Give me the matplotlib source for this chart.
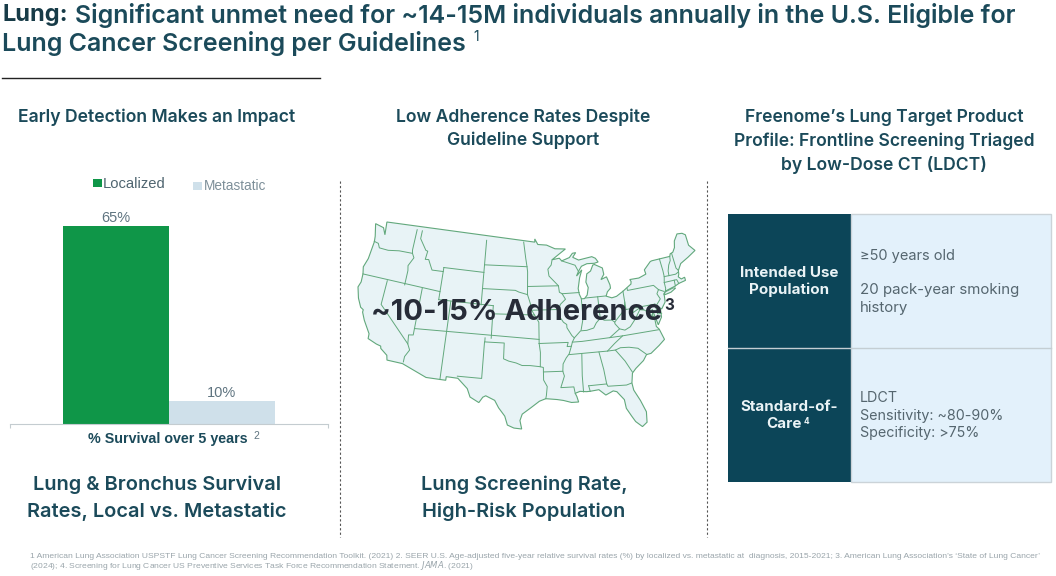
import matplotlib
matplotlib.use("Agg")
import matplotlib.pyplot as plt
import numpy as np
from matplotlib.patches import Polygon, Rectangle

# data
series = ["Localized", "Metastatic"]
survival = [65, 10]
survival_labels = ["65%", "10%"]
bar_colors = ["#0f9648", "#cfe0ea"]

TEAL = "#1b4a5a"
DARK = "#0c4558"
LIGHT = "#e3f1fb"
GREY = "#5f7480"
plt.rcParams["font.family"] = ["Inter", "DejaVu Sans"]

# map outline and state lines, lon/lat, rough by hand
us_outline = [(-124.7,48.4),(-123.1,48.2),(-122.5,47.4),(-122.8,49.0),(-95.15,49.0),(-95.15,49.4),(-94.6,48.7),(-93.0,48.6),
    (-91.5,48.1),(-89.6,48.0),(-92.1,46.75),(-90.8,46.9),(-90.4,46.55),(-89.0,46.9),(-88.4,47.4),(-87.8,47.45),(-88.4,46.9),
    (-87.4,46.5),(-85.0,46.75),(-84.4,46.5),(-84.0,46.0),(-84.7,45.9),(-86.0,45.95),(-87.0,45.7),(-87.6,45.1),(-88.0,44.55),
    (-87.0,45.25),(-87.5,44.3),(-87.9,43.0),(-87.8,42.3),(-87.5,41.7),(-87.0,41.7),(-86.5,42.1),(-86.2,43.0),(-86.5,43.7),
    (-86.2,44.7),(-85.5,45.0),(-85.0,45.7),(-84.7,45.75),(-83.4,45.2),(-83.3,44.4),(-83.9,43.8),(-82.9,44.05),(-82.5,43.0),
    (-82.5,42.6),(-83.1,42.2),(-83.4,41.7),(-82.5,41.4),(-81.7,41.5),(-80.5,42.0),(-79.0,42.7),(-78.9,43.0),(-79.05,43.27),
    (-77.5,43.25),(-76.2,43.55),(-76.3,44.1),(-75.0,44.95),(-74.7,45.0),(-71.5,45.0),(-71.3,45.3),(-70.8,45.4),(-70.3,45.9),
    (-70.0,46.7),(-69.2,47.45),(-68.3,47.35),(-67.8,47.05),(-67.8,45.7),(-67.0,44.85),(-68.5,44.3),(-70.0,43.8),(-70.7,43.05),
    (-70.8,42.6),(-71.0,42.3),(-70.6,41.95),(-70.0,42.05),(-70.0,41.65),(-71.2,41.5),(-71.9,41.3),(-73.6,41.0),(-74.0,40.7),
    (-74.0,40.4),(-74.1,39.7),(-74.9,38.95),(-75.55,39.5),(-75.1,38.8),(-75.2,38.0),(-75.95,37.15),(-76.2,38.3),(-76.4,39.2),
    (-76.5,38.4),(-76.3,37.9),(-76.3,37.0),(-75.95,36.6),(-75.5,35.25),(-76.5,34.65),(-77.9,33.9),(-78.6,33.85),(-79.2,33.2),
    (-80.5,32.4),(-81.1,31.9),(-81.4,30.7),(-81.3,29.8),(-80.6,28.4),(-80.05,26.9),(-80.2,25.6),(-80.9,25.15),(-81.7,25.9),
    (-82.1,26.6),(-82.7,27.7),(-82.8,28.8),(-83.7,29.9),(-84.2,30.05),(-85.3,29.65),(-86.2,30.4),(-87.5,30.3),(-88.0,30.3),
    (-88.9,30.4),(-89.6,30.2),(-89.4,29.8),(-89.2,29.1),(-90.2,29.1),(-91.3,29.4),(-92.2,29.55),(-93.8,29.7),(-94.7,29.4),
    (-95.9,28.6),(-97.1,27.8),(-97.4,27.0),(-97.15,25.95),(-98.2,26.05),(-99.1,26.4),(-99.5,27.5),(-100.4,28.5),(-101.0,29.4),
    (-102.3,29.9),(-102.7,29.7),(-103.2,29.0),(-104.5,29.6),(-105.0,30.6),(-106.5,31.75),(-108.2,31.78),(-108.2,31.33),
    (-111.07,31.33),(-114.8,32.5),(-117.12,32.53),(-117.3,33.1),(-118.4,33.75),(-118.5,34.03),(-119.2,34.15),(-120.6,34.55),
    (-120.65,35.15),(-121.9,36.6),(-122.5,37.5),(-122.5,37.8),(-123.0,38.0),(-123.75,39.0),(-124.35,40.3),(-124.1,41.0),
    (-124.2,42.0),(-124.5,42.85),(-124.1,44.0),(-123.95,46.2),(-124.1,46.9)]
long_island = [(-74.0,40.6),(-73.7,40.9),(-72.3,41.15),(-71.9,41.05),(-72.8,40.7),(-73.8,40.58)]
state_lines = [
    [(-124,46.25),(-123.2,46.15),(-122.8,45.65),(-121.2,45.65),(-119.3,45.93),(-116.92,46.0)],
    [(-117.03,49),(-117.04,46.4),(-116.92,46.0),(-116.5,45.5),(-117.2,44.4),(-117.03,43.8),(-117.03,42)],
    [(-124.2,42),(-111.05,42)],
    [(-116.05,49),(-116.05,48),(-114.7,46.7),(-114.35,46.65),(-114.5,45.6),(-113.9,45.65),(-113.45,45.05),(-113.0,44.45),(-111.05,44.5)],
    [(-111.05,45),(-111.05,41)],
    [(-111.05,45),(-104.05,45)],
    [(-104.05,49),(-104.05,41)],
    [(-111.05,41),(-102.05,41)],
    [(-109.05,41),(-109.05,31.33)],
    [(-114.05,42),(-114.05,36.2),(-114.75,36.1),(-114.6,35),(-114.15,34.3),(-114.7,33.4),(-114.72,32.72)],
    [(-120,42),(-120,39),(-114.6,35)],
    [(-114.05,37),(-94.62,37)],
    [(-102.05,41),(-102.05,37)],
    [(-104.05,43),(-98.5,43),(-97.9,42.8),(-96.45,42.5)],
    [(-104.05,45.94),(-96.56,45.94)],
    [(-102.05,40),(-95.3,40)],
    [(-96.45,42.5),(-96.1,41.7),(-95.9,41.2),(-95.85,40.7),(-95.3,40),(-94.62,39.1),(-94.62,36.5)],
    [(-97.2,49),(-96.8,47),(-96.56,45.94),(-96.45,45.3),(-96.45,42.5)],
    [(-96.45,43.5),(-91.2,43.5)],
    [(-92.1,46.75),(-92.3,46.1),(-92.9,45.6),(-92.75,44.75),(-91.2,43.5),(-91.1,42.7),(-90.65,42.5),(-90.15,41.8),(-91.05,41.2),
     (-91.4,40.4),(-91.5,40),(-90.7,39),(-90.2,38.7),(-90.2,38.3),(-89.5,37.3),(-89.15,37.0),(-89.5,36.5),(-89.7,36.0),(-90.1,35.1),
     (-90.6,34.6),(-91.1,33.9),(-91.2,33),(-91.0,32.4),(-91.6,31.0),(-89.73,31.0),(-89.6,30.2)],
    [(-95.77,40.58),(-91.7,40.6),(-91.4,40.4)],
    [(-103,37),(-103,36.5),(-100,36.5),(-100,34.56),(-99.2,34.3),(-98.1,34.1),(-97.2,33.8),(-96,33.8),(-94.5,33.65),(-94.45,35.4),(-94.62,36.5)],
    [(-103.04,36.5),(-103.06,32),(-106.6,32)],
    [(-94.5,33.65),(-94.05,33.55),(-94.05,32),(-93.55,31.2),(-93.7,30.1),(-93.8,29.7)],
    [(-94.05,33),(-91.2,33)],
    [(-94.62,36.5),(-90.15,36.5),(-90.35,36),(-89.7,36)],
    [(-89.5,36.5),(-88,36.5),(-83.68,36.6),(-81.7,36.6),(-75.95,36.55)],
    [(-90.1,35),(-84.3,35),(-83.1,35.8),(-81.7,36.6)],
    [(-88.2,35),(-88.4,32.3),(-88.4,30.3)],
    [(-85.6,35),(-85.18,32.8),(-85.0,31),(-84.86,30.7),(-82.2,30.55),(-81.45,30.7)],
    [(-87.6,31),(-85.0,31)],
    [(-87.6,31),(-87.45,30.3)],
    [(-84.3,35),(-83.1,35),(-81.9,33.5),(-81.1,32.05)],
    [(-83.1,35),(-82.3,35.2),(-81,35.1),(-79.7,34.8),(-78.55,33.85)],
    [(-89.15,37),(-88.1,37.8),(-87.1,37.8),(-86,38),(-85.5,38.6),(-84.8,39.1),(-84.2,38.8),(-83,38.7),(-82.6,38.4),(-81.8,39),(-80.8,39.7),(-80.52,40.64)],
    [(-87.53,41.7),(-87.53,39.3),(-88.0,37.9)],
    [(-84.8,39.1),(-84.8,41.75)],
    [(-86.8,41.76),(-84.8,41.75),(-83.45,41.73)],
    [(-90.65,42.5),(-87.8,42.5)],
    [(-90.4,46.55),(-88.1,45.9),(-87.6,45.1)],
    [(-83.68,36.6),(-82,37.5),(-82.6,38.2),(-82.6,38.4)],
    [(-82,37.5),(-81.2,37.25),(-80.3,37.55),(-79.3,38.4),(-78.35,39.4),(-77.8,39.3)],
    [(-80.52,39.72),(-75.79,39.72)],
    [(-79.48,39.72),(-79.48,39.2),(-78.4,39.6),(-77.7,39.3),(-77.0,38.85),(-76.3,38.0)],
    [(-80.52,42),(-80.52,39.72)],
    [(-79.76,42.27),(-79.76,42),(-75.35,42),(-74.7,41.36)],
    [(-74.7,41.36),(-75.1,40.9),(-74.75,40.2),(-75.5,39.6)],
    [(-75.79,39.72),(-75.7,38.46),(-75.05,38.45)],
    [(-74.7,41.36),(-73.9,41.0)],
    [(-73.35,45),(-73.25,43.5),(-73.27,42.75),(-73.5,42.05),(-73.5,41.3),(-73.65,41.0)],
    [(-71.5,45),(-71.6,44.5),(-72.05,44),(-72.4,43.3),(-72.46,42.73)],
    [(-73.27,42.75),(-71.3,42.7),(-70.8,42.87)],
    [(-73.5,42.05),(-71.38,42.02),(-71.2,41.5)],
    [(-71.8,42.02),(-71.85,41.32)],
    [(-71.05,45.3),(-70.98,43.4),(-70.7,43.07)],
]


def albers(points):
    # conic projection so the northern border curves like the picture
    pts = np.array(points, dtype=float)
    lon, lat = np.radians(pts[:, 0]), np.radians(pts[:, 1])
    p1, p2, p0, l0 = np.radians([29.5, 45.5, 37.5, -96])
    n = (np.sin(p1) + np.sin(p2)) / 2
    c = np.cos(p1) ** 2 + 2 * n * np.sin(p1)
    rho = np.sqrt(c - 2 * n * np.sin(lat)) / n
    rho0 = np.sqrt(c - 2 * n * np.sin(p0)) / n
    return np.c_[rho * np.sin(n * (lon - l0)), rho0 - rho * np.cos(n * (lon - l0))]


fig = plt.figure(figsize=(10.56, 5.76), dpi=100)
# overlay in pixel coordinates for the slide text
pg = fig.add_axes([0, 0, 1, 1])
pg.set_xlim(0, 1056)
pg.set_ylim(576, 0)
pg.axis("off")

# title
pg.text(2, 15, "Lung:", fontsize=17, fontweight="bold", color="#173b47", va="center")
pg.text(75, 15, "Significant unmet need for ~14-15M individuals annually in the U.S. Eligible for",
        fontsize=18, fontweight="semibold", color=TEAL, va="center")
pg.text(2, 44, "Lung Cancer Screening per Guidelines", fontsize=18, fontweight="semibold", color=TEAL, va="center")
pg.text(473, 37, "1", fontsize=10, color=TEAL, va="center")
pg.plot([2, 320], [78, 78], color="#222222", lw=1)

# column heads
for txt, x, y in [("Early Detection Makes an Impact", 157, 117.5),
                  ("Low Adherence Rates Despite", 523, 117.5),
                  ("Guideline Support", 523, 140.5),
                  ("Freenome’s Lung Target Product", 884, 117.5),
                  ("Profile: Frontline Screening Triaged", 884, 141.5),
                  ("by Low-Dose CT (LDCT)", 884, 164.5)]:
    pg.text(x, y, txt, fontsize=12.65, fontweight="semibold", color=TEAL, ha="center", va="center")

# dashed separators
for x in [340, 707]:
    pg.plot([x, x], [181, 537], color="#555555", lw=0.8, ls=(0, (2, 2)))

# bar chart, y starts above zero since the short bar is drawn that way
ax = fig.add_axes([10 / 1056, 1 - 424 / 576, 318 / 1056, 198 / 576])
positions = np.arange(len(survival))
ax.bar(positions, survival, width=1, color=bar_colors)
ax.set_xlim(-1, 2)
ax.set_ylim(2.76, 65)
ax.patch.set_alpha(0)
for s in ["top", "left", "right"]:
    ax.spines[s].set_visible(False)
ax.spines["bottom"].set_color("#c4ccd0")
ax.set_yticks([])
ax.set_xticks([-1, 2], ["", ""])
ax.tick_params(axis="x", direction="out", length=3, color="#c4ccd0")
for p, v, lab in zip(positions, survival, survival_labels):
    ax.annotate(lab, (p, v), xytext=(0, 0.5), textcoords="offset points", ha="center", va="bottom",
                fontsize=10.5, color=GREY, family=["Liberation Sans"], annotation_clip=False)
pg.text(168, 439, "% Survival over 5 years", fontsize=10.3, fontweight="bold", color=TEAL, ha="center", va="center",
        family=["Liberation Sans"])
pg.text(256, 436, "2", fontsize=7.5, color=GREY, ha="center", va="center", family=["Liberation Sans"])

# legend
pg.add_patch(Rectangle((93, 179), 9, 8, color=bar_colors[0], lw=0))
pg.text(103, 184, series[0], fontsize=10.6, color="#4f6570", va="center", family=["Liberation Sans"])
pg.add_patch(Rectangle((193, 182), 9, 8, color=bar_colors[1], lw=0))
pg.text(204, 186, series[1], fontsize=9.8, color="#7d8f99", va="center", family=["Liberation Sans"])

# map, scaled onto its spot on the slide
xy = albers(us_outline)
x0, y0 = xy.min(axis=0)
x1, y1 = xy.max(axis=0)


def to_page(points):
    p = albers(points)
    return np.c_[358 + (p[:, 0] - x0) / (x1 - x0) * 337, 429 - (p[:, 1] - y0) / (y1 - y0) * 207]


pg.add_patch(Polygon(to_page(us_outline), closed=True, fc="#e8f3f6", ec="#62a87c", lw=0.8))
pg.add_patch(Polygon(to_page(long_island), closed=True, fc="#e8f3f6", ec="#62a87c", lw=0.8))
for line in state_lines:
    p = to_page(line)
    pg.plot(p[:, 0], p[:, 1], color="#62a87c", lw=0.7, solid_joinstyle="round")
pg.text(371, 312, "~10-15% Adherence", fontsize=21, fontweight="bold", color="#272c38", va="center")
pg.text(669, 305, "3", fontsize=11, fontweight="bold", color="#272c38", ha="center", va="center")

# captions
for txt, x, y in [("Lung & Bronchus Survival", 157, 485), ("Rates, Local vs. Metastatic", 157, 511.5),
                  ("Lung Screening Rate,", 524, 485), ("High-Risk Population", 524, 511.5)]:
    pg.text(x, y, txt, fontsize=14.4, fontweight="semibold", color=TEAL, ha="center", va="center")

# table
pg.add_patch(Rectangle((728, 214), 123, 268, fc=DARK, ec="none"))
pg.add_patch(Rectangle((851, 214), 200, 268, fc=LIGHT, ec="#cbd3d8", lw=1))
pg.plot([728, 1051], [348, 348], color="#c4ced3", lw=1)
for txt, x, y in [("Intended Use", 789, 273), ("Population", 789, 290), ("Standard-of-", 789, 407), ("Care", 784, 424)]:
    pg.text(x, y, txt, fontsize=10.9, fontweight="bold", color="#eaf3f6", ha="center", va="center")
pg.text(806, 422, "4", fontsize=6, fontweight="bold", color="#eaf3f6", ha="center", va="center")
for txt, y, size in [("≥50 years old", 256, 10.5), ("20 pack-year smoking", 290, 10.8), ("history", 308, 10.8),
                     ("LDCT", 398.5, 10.3), ("Sensitivity: ~80-90%", 416, 10.3), ("Specificity: >75%", 433, 10.3)]:
    pg.text(860, y, txt, fontsize=size, color="#55666f", va="center")

# footnote
pg.text(30, 556, "1 American Lung Association USPSTF Lung Cancer Screening Recommendation Toolkit. (2021) 2. SEER U.S. Age-adjusted five-year relative survival rates (%) by localized vs. metastatic at  diagnosis, 2015-2021; 3. American Lung Association’s ‘State of Lung Cancer’",
        fontsize=6.08, color="#9aa5ab", va="center", family=["Liberation Sans"])
pg.text(30, 566, "(2024); 4. Screening for Lung Cancer US Preventive Services Task Force Recommendation Statement. $\\mathit{JAMA}$. (2021)",
        fontsize=6.08, color="#9aa5ab", va="center", family=["Liberation Sans"])

fig.savefig("out.png", dpi=100)
